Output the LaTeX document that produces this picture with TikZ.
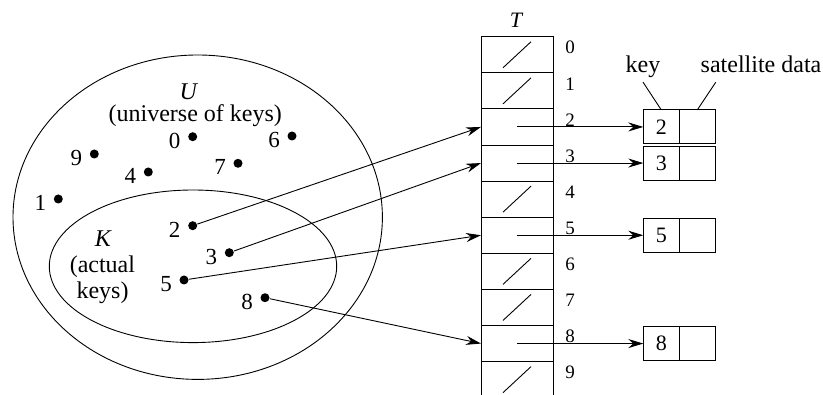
\documentclass[tikz,border=0pt]{standalone}
\usepackage{fontspec}
\setmainfont{Liberation Serif}
\usetikzlibrary{arrows.meta,calc,positioning}

\begin{document}
\begin{tikzpicture}[x=1pt,y=-1pt,line width=0.9pt,
  every node/.style={font=\fontsize{24}{26}\selectfont},
  yazi/.style={anchor=base,inner sep=1pt},
  hucre/.style={draw,minimum width=72pt,minimum height=36.1pt,inner sep=0pt,outer sep=0pt},
  kutu/.style={draw,minimum width=36pt,minimum height=34pt,inner sep=0pt,outer sep=0pt,
               font=\fontsize{22}{24}\selectfont},
  nokta/.style={circle,fill,inner sep=0pt,minimum size=9pt},
  rakam/.style={font=\fontsize{23}{24}\selectfont,inner sep=1pt},
  sira/.style={font=\fontsize{19}{20}\selectfont},
  ok/.style={-{Stealth[length=15pt,width=9pt,inset=5pt]}}]
\useasboundingbox (0,0) rectangle (823,395);
\draw (197.7,217.2) ellipse [x radius=184.7pt, y radius=162.2pt];
\draw (193,266.3) ellipse [x radius=143.7pt, y radius=76.3pt];
\node[yazi] (lu) at (189,99.5) {\textit{U}};
\node[yazi] (lev) at (195.3,121.5) {(universe of keys)};
\node[yazi] (lk) at (103.3,246.7) {\textit{K}};
\node[yazi] (lgk) at (102.4,272.7) {(actual};
\node[yazi] (lgk2) at (102.5,298.5) {keys)};
\foreach \k/\x/\y in {0/192.7/136.7,6/292/136,9/94.3/154,4/148.3/172,7/238/163.3,
                      1/58.3/199,2/192.7/225.7,3/229.3/252.7,5/184/280,8/265/297.7} {
  \node[nokta] (k\k) at (\x,\y) {};
  \node[rakam] (r\k) at ([shift={(-18,4)}]k\k) {\k};
}
\node[font=\fontsize{22}{24}\selectfont] (lt) at (516.7,20) {\textit{T}};
\foreach \i in {0,...,9} {
  \node[hucre] (t\i) at (517,{54.75+36.1*\i}) {};
  \node[sira] (i\i) at (570,{47.7+36.1*\i}) {\i};
}
\foreach \i in {0,1,4,6,7,9}
  \draw ([shift={(-14,13)}]t\i.center) -- ([shift={(14,-13)}]t\i.center);
\foreach \i in {2,3,5,8} {
  \node[kutu] (a\i) at (661.3,{54.75+36.1*\i}) {\i};
  \node[kutu,right=0pt of a\i] (s\i) {};
  \draw[ok] (t\i.center) -- (a\i);
  \draw[ok] (k\i) -- (t\i.west);
}
\node[yazi] (lan) at (643,72.5) {key};
\node[yazi] (luv) at (761,72.5) {satellite data};
\coordinate (uv) at (715.7,82.3);
\draw ([yshift=-3pt]lan.south) -- (a2.north);
\draw (uv) -- (s2.north);
\end{tikzpicture}
\end{document}
